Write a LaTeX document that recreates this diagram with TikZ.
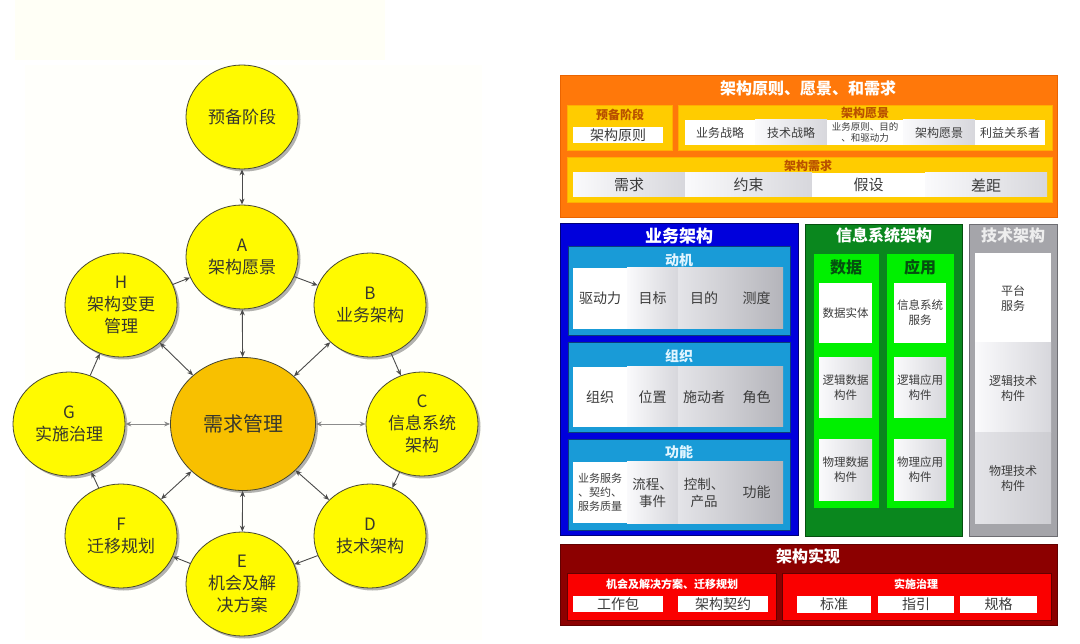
\documentclass[tikz,border=0pt]{standalone}
\usepackage{fontspec}
\setmainfont{Noto Sans CJK SC}
\usetikzlibrary{shapes.geometric,shadows,arrows.meta}
\definecolor{creamA}{RGB}{255,255,246}
\definecolor{creamB}{RGB}{255,255,251}
\definecolor{yellowC}{RGB}{255,250,0}
\definecolor{hubC}{RGB}{248,192,0}
\definecolor{circD}{RGB}{70,70,50}
\definecolor{txtD}{RGB}{55,55,45}
\definecolor{connC}{RGB}{75,75,75}
\definecolor{connL}{RGB}{140,140,140}
\definecolor{orangeM}{RGB}{255,120,10}
\definecolor{orangeD}{RGB}{235,100,0}
\definecolor{ylw}{RGB}{255,204,0}
\definecolor{ylwD}{RGB}{255,175,0}
\definecolor{brownT}{RGB}{185,80,0}
\definecolor{blueM}{RGB}{0,0,220}
\definecolor{blueD}{RGB}{0,0,120}
\definecolor{cyanM}{RGB}{25,155,215}
\definecolor{cyanD}{RGB}{10,60,120}
\definecolor{cyanT}{RGB}{225,245,255}
\definecolor{greenD}{RGB}{10,135,30}
\definecolor{greenDD}{RGB}{5,80,15}
\definecolor{greenB}{RGB}{0,240,0}
\definecolor{grayM}{RGB}{165,165,170}
\definecolor{grayD}{RGB}{110,110,115}
\definecolor{redD}{RGB}{140,0,0}
\definecolor{redDD}{RGB}{100,0,0}
\definecolor{redM}{RGB}{250,0,0}
\definecolor{cellT}{RGB}{60,60,60}
\newcommand\bx[7]{\node[#6, inner sep=0pt, minimum width={(#4-#2)*1pt}, minimum height={(#5-#3)*1pt}] (#1) at ({(#2+#4)/2},{(#3+#5)/2}) {#7};}
\tikzset{
  circ/.style={ellipse, draw=circD, line width=0.8pt, fill=yellowC, minimum width=112pt, minimum height=104pt, inner sep=0pt, align=center, text=txtD, font=\fontsize{17}{22}\selectfont, drop shadow={shadow xshift=2.5pt, shadow yshift=-2.5pt, fill=black, opacity=0.3}},
  hub/.style={ellipse, draw=circD, line width=0.8pt, fill=hubC, minimum width=145pt, minimum height=133pt, inner sep=0pt, text=txtD, font=\fontsize{20}{24}\selectfont, drop shadow={shadow xshift=2.5pt, shadow yshift=-2.5pt, fill=black, opacity=0.3}},
  conn/.style={draw=connC, line width=0.9pt, -{Stealth[length=6pt,width=5pt]}},
  dconn/.style={draw=connC, line width=0.9pt, {Stealth[length=6pt,width=5pt]}-{Stealth[length=6pt,width=5pt]}},
  lconn/.style={dconn, draw=connL, line width=0.7pt, {Stealth[length=6pt,width=5pt,fill=connC]}-{Stealth[length=6pt,width=5pt,fill=connC]}},
  ybox/.style={fill=ylw, draw=ylwD, line width=0.8pt},
  cbox/.style={fill=cyanM, draw=cyanD, line width=1pt},
  gcol/.style={fill=greenB, draw=greenD, line width=0.6pt},
  rbox/.style={fill=redM, draw=redDD, line width=0.6pt},
  g0/.style={fill=white, text=cellT, align=center},
  g1/.style={left color={rgb,255:red,250;green,250;blue,252}, right color={rgb,255:red,215;green,215;blue,220}, text=cellT, align=center},
  g2/.style={left color={rgb,255:red,228;green,228;blue,232}, right color={rgb,255:red,205;green,205;blue,210}, text=cellT, align=center},
  g3/.style={left color={rgb,255:red,205;green,205;blue,210}, right color={rgb,255:red,180;green,180;blue,186}, text=cellT, align=center},
  wtitle/.style={text=white, font=\fontsize{16}{18}\selectfont\bfseries, inner sep=0pt},
  ctitle/.style={text=cyanT, font=\fontsize{14}{16}\selectfont\bfseries, inner sep=0pt},
  stitle/.style={font=\fontsize{12}{14}\selectfont\bfseries, inner sep=0pt},
}
\begin{document}
\begin{tikzpicture}[x=1pt,y=-1pt]
\useasboundingbox (0,0) rectangle (1080,644);
\fill[white] (0,0) rectangle (1080,644);
\fill[creamA] (15,0) rectangle (385,60);
\fill[creamB] (25,65) rectangle (482,640);

% ---------- left cycle ----------
\node[circ] (P) at (242,117) {预备阶段};
\node[circ] (A) at (242,257) {A\\架构愿景};
\node[circ] (B) at (370,305) {B\\业务架构};
\node[circ] (C) at (422,424) {C\\信息系统\\架构};
\node[circ] (D) at (370,536) {D\\技术架构};
\node[circ] (E) at (242,584) {E\\机会及解\\决方案};
\node[circ] (F) at (121,536) {F\\迁移规划};
\node[circ] (G) at (69,424) {G\\实施治理};
\node[circ] (H) at (121,305) {H\\架构变更\\管理};
\node[hub] (R) at (243,424) {需求管理};

\draw[dconn] (P) -- (A);
\draw[conn] (A) -- (B);
\draw[conn] (B) -- (C);
\draw[conn] (C) -- (D);
\draw[conn] (D) -- (E);
\draw[conn] (E) -- (F);
\draw[conn] (F) -- (G);
\draw[conn] (G) -- (H);
\draw[conn] (H) -- (A);
\foreach \n in {A,B,D,E,F,H} { \draw[dconn] (R) -- (\n); }
\draw[lconn] (R) -- (C);
\draw[lconn] (R) -- (G);

% ---------- orange block ----------
\bx{orng}{560}{75}{1057}{217}{fill=orangeM, draw=orangeD, line width=0.8pt}{}
\node[wtitle] (orngT) at (808,88) {架构原则、愿景、和需求};
\bx{yb1}{567}{105}{672}{150}{ybox}{}
\node[stitle, text=brownT] (yb1T) at (620,115) {预备阶段};
\bx{c11}{573}{127}{663}{143}{g0, font=\fontsize{14}{16}\selectfont}{架构原则}
\bx{yb2}{678}{105}{1052}{150}{ybox}{}
\node[stitle, text=brownT] (yb2T) at (865,113) {架构愿景};
\bx{v1}{685}{120}{755}{145}{g0, font=\fontsize{12}{14}\selectfont}{业务战略}
\bx{v2}{755}{120}{827}{145}{g1, font=\fontsize{12}{14}\selectfont}{技术战略}
\bx{v3}{827}{120}{903}{145}{g0, font=\fontsize{9.5}{11.5}\selectfont}{业务原则、目的\\、和驱动力}
\bx{v4}{903}{120}{975}{145}{g1, font=\fontsize{12}{14}\selectfont}{架构愿景}
\bx{v5}{975}{120}{1045}{145}{g0, font=\fontsize{12}{14}\selectfont}{利益关系者}
\bx{yb3}{567}{157}{1052}{202}{ybox}{}
\node[stitle, text=brownT] (yb3T) at (808,166) {架构需求};
\bx{r1}{573}{173}{685}{197}{g1, font=\fontsize{15}{17}\selectfont}{需求}
\bx{r2}{685}{173}{812}{197}{g1, font=\fontsize{15}{17}\selectfont}{约束}
\bx{r3}{812}{173}{925}{197}{g0, font=\fontsize{15}{17}\selectfont}{假设}
\bx{r4}{925}{173}{1047}{197}{g1, font=\fontsize{15}{17}\selectfont}{差距}

% ---------- business architecture ----------
\bx{blu}{560}{224}{798}{535}{fill=blueM, draw=blueD, line width=1pt}{}
\node[wtitle, font=\fontsize{17}{19}\selectfont\bfseries] (bluT) at (679,236) {业务架构};
\bx{cb1}{568}{247}{790}{336}{cbox}{}
\node[ctitle] (cb1T) at (679,260) {动机};
\bx{m1}{573}{268}{627}{329}{g0, font=\fontsize{14}{16}\selectfont}{驱动力}
\bx{m2}{627}{268}{678}{329}{g1, font=\fontsize{14}{16}\selectfont}{目标}
\bx{m3}{678}{268}{730}{329}{g2, font=\fontsize{14}{16}\selectfont}{目的}
\bx{m4}{730}{268}{783}{329}{g3, font=\fontsize{14}{16}\selectfont}{测度}
\bx{cb2}{568}{343}{790}{433}{cbox}{}
\node[ctitle] (cb2T) at (679,356) {组织};
\bx{o1}{573}{367}{627}{427}{g0, font=\fontsize{14}{16}\selectfont}{组织}
\bx{o2}{627}{367}{678}{427}{g1, font=\fontsize{14}{16}\selectfont}{位置}
\bx{o3}{678}{367}{730}{427}{g2, font=\fontsize{14}{16}\selectfont}{施动者}
\bx{o4}{730}{367}{783}{427}{g3, font=\fontsize{14}{16}\selectfont}{角色}
\bx{cb3}{568}{440}{790}{530}{cbox}{}
\node[ctitle] (cb3T) at (679,452) {功能};
\bx{f1}{573}{462}{627}{523}{g0, font=\fontsize{11}{14}\selectfont}{业务服务\\、契约、\\服务质量}
\bx{f2}{627}{462}{678}{523}{g1, font=\fontsize{13.5}{17}\selectfont}{流程、\\事件}
\bx{f3}{678}{462}{730}{523}{g2, font=\fontsize{13.5}{17}\selectfont}{控制、\\产品}
\bx{f4}{730}{462}{783}{523}{g3, font=\fontsize{14}{16}\selectfont}{功能}

% ---------- information systems architecture ----------
\bx{grn}{805}{224}{962}{536}{fill=greenD, draw=greenDD, line width=0.8pt}{}
\node[wtitle] (grnT) at (884,235) {信息系统架构};
\bx{gc1}{813}{253}{879}{508}{gcol}{}
\node[inner sep=0pt, text=greenDD, font=\fontsize{16}{18}\selectfont\bfseries] (gc1T) at (846,267) {数据};
\bx{d1}{819}{283}{872}{343}{g0, font=\fontsize{11.5}{15}\selectfont}{数据实体}
\bx{d2}{819}{358}{872}{418}{g1, font=\fontsize{11.5}{15}\selectfont}{逻辑数据\\构件}
\bx{d3}{819}{440}{872}{500}{g1, font=\fontsize{11.5}{15}\selectfont}{物理数据\\构件}
\bx{gc2}{886}{253}{954}{508}{gcol}{}
\node[inner sep=0pt, text=greenDD, font=\fontsize{16}{18}\selectfont\bfseries] (gc2T) at (920,267) {应用};
\bx{a1}{894}{283}{946}{343}{g0, font=\fontsize{11.5}{15}\selectfont}{信息系统\\服务}
\bx{a2}{894}{358}{946}{418}{g1, font=\fontsize{11.5}{15}\selectfont}{逻辑应用\\构件}
\bx{a3}{894}{440}{946}{500}{g1, font=\fontsize{11.5}{15}\selectfont}{物理应用\\构件}

% ---------- technology architecture ----------
\bx{gry}{969}{224}{1057}{536}{fill=grayM, draw=grayD, line width=0.8pt}{}
\node[wtitle, text={rgb,255:red,238;green,238;blue,238}] (gryT) at (1013,235) {技术架构};
\bx{t1}{975}{253}{1051}{343}{g0, font=\fontsize{12}{15}\selectfont}{平台\\服务}
\bx{t2}{975}{343}{1051}{433}{g1, font=\fontsize{12}{15}\selectfont}{逻辑技术\\构件}
\bx{t3}{975}{433}{1051}{523}{g2, font=\fontsize{12}{15}\selectfont}{物理技术\\构件}

% ---------- architecture realisation ----------
\bx{red}{560}{544}{1057}{625}{fill=redD, draw=redDD, line width=0.8pt}{}
\node[wtitle] (redT) at (808,556) {架构实现};
\bx{rb1}{567}{573}{776}{620}{rbox}{}
\node[stitle, text=white, font=\fontsize{11}{13}\selectfont\bfseries] (rb1T) at (672,584) {机会及解决方案、迁移规划};
\bx{w1}{573}{596}{663}{612}{g0, font=\fontsize{14}{16}\selectfont}{工作包}
\bx{w2}{678}{596}{768}{612}{g0, font=\fontsize{14}{16}\selectfont}{架构契约}
\bx{rb2}{782}{573}{1051}{620}{rbox}{}
\node[stitle, text=white, font=\fontsize{11}{13}\selectfont\bfseries] (rb2T) at (916,584) {实施治理};
\bx{s1}{797}{596}{871}{613}{g0, font=\fontsize{14}{16}\selectfont}{标准}
\bx{s2}{878}{596}{954}{613}{g0, font=\fontsize{14}{16}\selectfont}{指引}
\bx{s3}{960}{596}{1037}{613}{g0, font=\fontsize{14}{16}\selectfont}{规格}
\end{tikzpicture}
\end{document}
